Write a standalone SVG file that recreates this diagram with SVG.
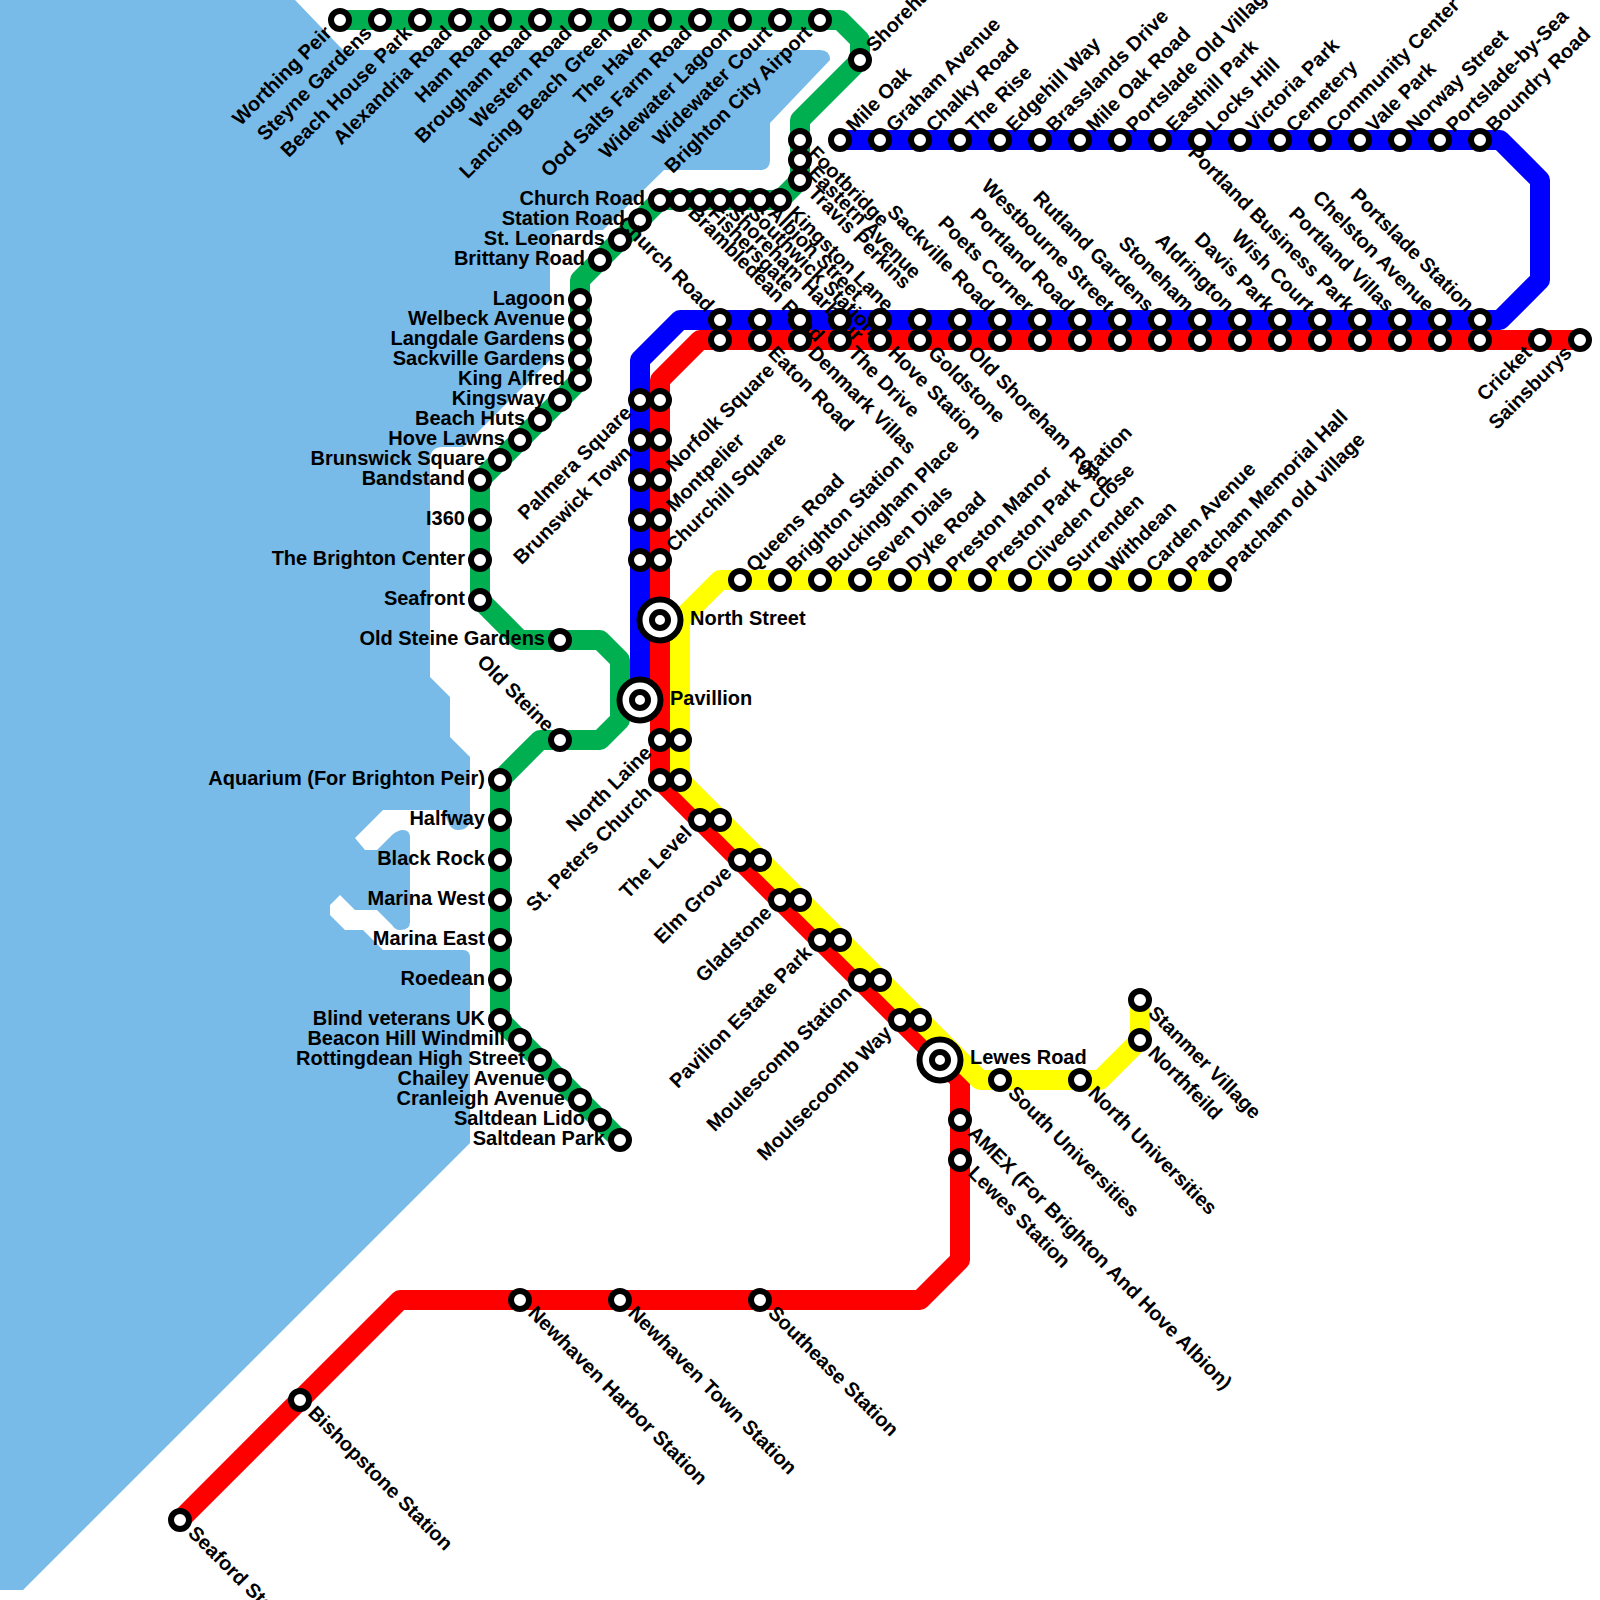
<svg xmlns="http://www.w3.org/2000/svg" width="1600" height="1600" viewBox="0 0 1600 1600">
<style>
text{font-family:"Liberation Sans",Arial,sans-serif;font-weight:bold;font-size:20px;fill:#000}
.e{text-anchor:end}
.ln{fill:none;stroke-width:20;stroke-linejoin:round;stroke-linecap:butt}
.g{stroke:#00B050}.b{stroke:#0000FF}.r{stroke:#FF0000}.y{stroke:#FFFF00}
.s{fill:#fff;stroke:#000;stroke-width:6}
.h{fill:#fff;stroke:#000;stroke-width:6}
</style>
<path id="sea" fill="#78BAE8" d="M0 0H295L343 50H820Q830 50 830 60L770 123V160Q770 170 760 170H664L603 230H563Q550 230 550 243V360L463 447H443Q430 447 430 460V677L450 697V737L470 757V818Q470 830 458 830Q452 830 449 824L443 810H383L355 838L365 850H377L392 835Q398 830 403 830Q410 830 410 838V922Q410 930 400 930Q395 930 392 925L377 910H355L340 895L330 905V915L345 930H363L383 950H463Q470 950 470 958V1143L23 1590H0Z"/>
<g id="connectors">
<path class="ln g" d="M340 20H840L860 40V60L800 120V180L780 200H660L580 280V380L480 480V600L520 640H600L620 660V720L600 740H540L500 780V1020L620 1140"/>
<path class="ln b" d="M840 140H1500L1540 180V280L1500 320H680L640 360V700"/>
<path class="ln r" d="M1580 340H700L660 380V780L960 1080V1260L920 1300H400L180 1520"/>
<path class="ln y" d="M1220 580H720L680 620V780L980 1080H1100L1140 1040V1000"/>
</g>
<g id="nodes">
<g id="worthing-peir" transform="translate(340 20)"><circle class="s" r="9"/><text class="e" x="-15" y="5" transform="rotate(-45)">Worthing Peir</text></g>
<g id="steyne-gardens" transform="translate(380 20)"><circle class="s" r="9"/><text class="e" x="-15" y="5" transform="rotate(-45)">Steyne Gardens</text></g>
<g id="beach-house-park" transform="translate(420 20)"><circle class="s" r="9"/><text class="e" x="-15" y="5" transform="rotate(-45)">Beach House Park</text></g>
<g id="alexandria-road" transform="translate(460 20)"><circle class="s" r="9"/><text class="e" x="-15" y="5" transform="rotate(-45)">Alexandria Road</text></g>
<g id="ham-road" transform="translate(500 20)"><circle class="s" r="9"/><text class="e" x="-15" y="5" transform="rotate(-45)">Ham Road</text></g>
<g id="brougham-road" transform="translate(540 20)"><circle class="s" r="9"/><text class="e" x="-15" y="5" transform="rotate(-45)">Brougham Road</text></g>
<g id="western-road" transform="translate(580 20)"><circle class="s" r="9"/><text class="e" x="-15" y="5" transform="rotate(-45)">Western Road</text></g>
<g id="lancing-beach-green" transform="translate(620 20)"><circle class="s" r="9"/><text class="e" x="-15" y="5" transform="rotate(-45)">Lancing Beach Green</text></g>
<g id="the-haven" transform="translate(660 20)"><circle class="s" r="9"/><text class="e" x="-15" y="5" transform="rotate(-45)">The Haven</text></g>
<g id="ood-salts-farm-road" transform="translate(700 20)"><circle class="s" r="9"/><text class="e" x="-15" y="5" transform="rotate(-45)">Ood Salts Farm Road</text></g>
<g id="widewater-lagoon" transform="translate(740 20)"><circle class="s" r="9"/><text class="e" x="-15" y="5" transform="rotate(-45)">Widewater Lagoon</text></g>
<g id="widewater-court" transform="translate(780 20)"><circle class="s" r="9"/><text class="e" x="-15" y="5" transform="rotate(-45)">Widewater Court</text></g>
<g id="brighton-city-airport" transform="translate(820 20)"><circle class="s" r="9"/><text class="e" x="-15" y="5" transform="rotate(-45)">Brighton City Airport</text></g>
<g id="shoreham" transform="translate(860 60)"><circle class="s" r="9"/><text x="15" y="5" transform="rotate(-45)">Shoreham</text></g>
<g id="footbridge" transform="translate(800 140)"><circle class="s" r="9"/><text x="15" y="5" transform="rotate(45)">Footbridge</text></g>
<g id="eastern-avenue" transform="translate(800 160)"><circle class="s" r="9"/><text x="15" y="5" transform="rotate(45)">Eastern Avenue</text></g>
<g id="travis-perkins" transform="translate(800 180)"><circle class="s" r="9"/><text x="15" y="5" transform="rotate(45)">Travis Perkins</text></g>
<g id="kingston-lane" transform="translate(780 200)"><circle class="s" r="9"/><text x="15" y="5" transform="rotate(45)">Kingston Lane</text></g>
<g id="albion-street" transform="translate(760 200)"><circle class="s" r="9"/><text x="15" y="5" transform="rotate(45)">Albion Street</text></g>
<g id="southwick-station" transform="translate(740 200)"><circle class="s" r="9"/><text x="15" y="5" transform="rotate(45)">Southwick Station</text></g>
<g id="shoreham-harbour" transform="translate(720 200)"><circle class="s" r="9"/><text x="15" y="5" transform="rotate(45)">Shoreham Harbour</text></g>
<g id="fishersgate" transform="translate(700 200)"><circle class="s" r="9"/><text x="15" y="5" transform="rotate(45)">Fishersgate</text></g>
<g id="brambledean-road" transform="translate(680 200)"><circle class="s" r="9"/><text x="15" y="5" transform="rotate(45)">Brambledean Road</text></g>
<g id="church-road-green" transform="translate(660 200)"><circle class="s" r="9"/><text class="e" x="-15" y="5">Church Road</text></g>
<g id="station-road" transform="translate(640 220)"><circle class="s" r="9"/><text class="e" x="-15" y="5">Station Road</text></g>
<g id="st-leonards" transform="translate(620 240)"><circle class="s" r="9"/><text class="e" x="-15" y="5">St. Leonards</text></g>
<g id="brittany-road" transform="translate(600 260)"><circle class="s" r="9"/><text class="e" x="-15" y="5">Brittany Road</text></g>
<g id="lagoon" transform="translate(580 300)"><circle class="s" r="9"/><text class="e" x="-15" y="5">Lagoon</text></g>
<g id="welbeck-avenue" transform="translate(580 320)"><circle class="s" r="9"/><text class="e" x="-15" y="5">Welbeck Avenue</text></g>
<g id="langdale-gardens" transform="translate(580 340)"><circle class="s" r="9"/><text class="e" x="-15" y="5">Langdale Gardens</text></g>
<g id="sackville-gardens" transform="translate(580 360)"><circle class="s" r="9"/><text class="e" x="-15" y="5">Sackville Gardens</text></g>
<g id="king-alfred" transform="translate(580 380)"><circle class="s" r="9"/><text class="e" x="-15" y="5">King Alfred</text></g>
<g id="kingsway" transform="translate(560 400)"><circle class="s" r="9"/><text class="e" x="-15" y="5">Kingsway</text></g>
<g id="beach-huts" transform="translate(540 420)"><circle class="s" r="9"/><text class="e" x="-15" y="5">Beach Huts</text></g>
<g id="hove-lawns" transform="translate(520 440)"><circle class="s" r="9"/><text class="e" x="-15" y="5">Hove Lawns</text></g>
<g id="brunswick-square" transform="translate(500 460)"><circle class="s" r="9"/><text class="e" x="-15" y="5">Brunswick Square</text></g>
<g id="bandstand" transform="translate(480 480)"><circle class="s" r="9"/><text class="e" x="-15" y="5">Bandstand</text></g>
<g id="i360" transform="translate(480 520)"><circle class="s" r="9"/><text class="e" x="-15" y="5">I360</text></g>
<g id="the-brighton-center" transform="translate(480 560)"><circle class="s" r="9"/><text class="e" x="-15" y="5">The Brighton Center</text></g>
<g id="seafront" transform="translate(480 600)"><circle class="s" r="9"/><text class="e" x="-15" y="5">Seafront</text></g>
<g id="old-steine-gardens" transform="translate(560 640)"><circle class="s" r="9"/><text class="e" x="-15" y="5">Old Steine Gardens</text></g>
<g id="old-steine" transform="translate(560 740)"><circle class="s" r="9"/><text class="e" x="-15" y="5" transform="rotate(45)">Old Steine</text></g>
<g id="aquarium" transform="translate(500 780)"><circle class="s" r="9"/><text class="e" x="-15" y="5">Aquarium (For Brighton Peir)</text></g>
<g id="halfway" transform="translate(500 820)"><circle class="s" r="9"/><text class="e" x="-15" y="5">Halfway</text></g>
<g id="black-rock" transform="translate(500 860)"><circle class="s" r="9"/><text class="e" x="-15" y="5">Black Rock</text></g>
<g id="marina-west" transform="translate(500 900)"><circle class="s" r="9"/><text class="e" x="-15" y="5">Marina West</text></g>
<g id="marina-east" transform="translate(500 940)"><circle class="s" r="9"/><text class="e" x="-15" y="5">Marina East</text></g>
<g id="roedean" transform="translate(500 980)"><circle class="s" r="9"/><text class="e" x="-15" y="5">Roedean</text></g>
<g id="blind-veterans-uk" transform="translate(500 1020)"><circle class="s" r="9"/><text class="e" x="-15" y="5">Blind veterans UK</text></g>
<g id="beacon-hill-windmill" transform="translate(520 1040)"><circle class="s" r="9"/><text class="e" x="-15" y="5">Beacon Hill Windmill</text></g>
<g id="rottingdean-high-street" transform="translate(540 1060)"><circle class="s" r="9"/><text class="e" x="-15" y="5">Rottingdean High Street</text></g>
<g id="chailey-avenue" transform="translate(560 1080)"><circle class="s" r="9"/><text class="e" x="-15" y="5">Chailey Avenue</text></g>
<g id="cranleigh-avenue" transform="translate(580 1100)"><circle class="s" r="9"/><text class="e" x="-15" y="5">Cranleigh Avenue</text></g>
<g id="saltdean-lido" transform="translate(600 1120)"><circle class="s" r="9"/><text class="e" x="-15" y="5">Saltdean Lido</text></g>
<g id="saltdean-park" transform="translate(620 1140)"><circle class="s" r="9"/><text class="e" x="-15" y="5">Saltdean Park</text></g>

<g id="mile-oak" transform="translate(840 140)"><circle class="s" r="9"/><text x="15" y="5" transform="rotate(-45)">Mile Oak</text></g>
<g id="graham-avenue" transform="translate(880 140)"><circle class="s" r="9"/><text x="15" y="5" transform="rotate(-45)">Graham Avenue</text></g>
<g id="chalky-road" transform="translate(920 140)"><circle class="s" r="9"/><text x="15" y="5" transform="rotate(-45)">Chalky Road</text></g>
<g id="the-rise" transform="translate(960 140)"><circle class="s" r="9"/><text x="15" y="5" transform="rotate(-45)">The Rise</text></g>
<g id="edgehill-way" transform="translate(1000 140)"><circle class="s" r="9"/><text x="15" y="5" transform="rotate(-45)">Edgehill Way</text></g>
<g id="brasslands-drive" transform="translate(1040 140)"><circle class="s" r="9"/><text x="15" y="5" transform="rotate(-45)">Brasslands Drive</text></g>
<g id="mile-oak-road" transform="translate(1080 140)"><circle class="s" r="9"/><text x="15" y="5" transform="rotate(-45)">Mile Oak Road</text></g>
<g id="portslade-old-village" transform="translate(1120 140)"><circle class="s" r="9"/><text x="15" y="5" transform="rotate(-45)">Portslade Old Village</text></g>
<g id="easthill-park" transform="translate(1160 140)"><circle class="s" r="9"/><text x="15" y="5" transform="rotate(-45)">Easthill Park</text></g>
<g id="locks-hill" transform="translate(1200 140)"><circle class="s" r="9"/><text x="15" y="5" transform="rotate(-45)">Locks Hill</text></g>
<g id="victoria-park" transform="translate(1240 140)"><circle class="s" r="9"/><text x="15" y="5" transform="rotate(-45)">Victoria Park</text></g>
<g id="cemetery" transform="translate(1280 140)"><circle class="s" r="9"/><text x="15" y="5" transform="rotate(-45)">Cemetery</text></g>
<g id="community-center" transform="translate(1320 140)"><circle class="s" r="9"/><text x="15" y="5" transform="rotate(-45)">Community Center</text></g>
<g id="vale-park" transform="translate(1360 140)"><circle class="s" r="9"/><text x="15" y="5" transform="rotate(-45)">Vale Park</text></g>
<g id="norway-street" transform="translate(1400 140)"><circle class="s" r="9"/><text x="15" y="5" transform="rotate(-45)">Norway Street</text></g>
<g id="portslade-by-sea" transform="translate(1440 140)"><circle class="s" r="9"/><text x="15" y="5" transform="rotate(-45)">Portslade-by-Sea</text></g>
<g id="boundry-road" transform="translate(1480 140)"><circle class="s" r="9"/><text x="15" y="5" transform="rotate(-45)">Boundry Road</text></g>

<g id="church-road-blue" transform="translate(720 320)"><circle class="s" r="9"/><text class="e" x="-15" y="5" transform="rotate(45)">Church Road</text></g>
<g id="blue-760" transform="translate(760 320)"><circle class="s" r="9"/></g>
<g id="blue-800" transform="translate(800 320)"><circle class="s" r="9"/></g>
<g id="blue-840" transform="translate(840 320)"><circle class="s" r="9"/></g>
<g id="blue-880" transform="translate(880 320)"><circle class="s" r="9"/></g>
<g id="blue-920" transform="translate(920 320)"><circle class="s" r="9"/></g>
<g id="blue-960" transform="translate(960 320)"><circle class="s" r="9"/></g>
<g id="sackville-road" transform="translate(1000 320)"><circle class="s" r="9"/><text class="e" x="-15" y="5" transform="rotate(45)">Sackville Road</text></g>
<g id="poets-corner" transform="translate(1040 320)"><circle class="s" r="9"/><text class="e" x="-15" y="5" transform="rotate(45)">Poets Corner</text></g>
<g id="portland-road" transform="translate(1080 320)"><circle class="s" r="9"/><text class="e" x="-15" y="5" transform="rotate(45)">Portland Road</text></g>
<g id="westbourne-street" transform="translate(1120 320)"><circle class="s" r="9"/><text class="e" x="-15" y="5" transform="rotate(45)">Westbourne Street</text></g>
<g id="rutland-gardens" transform="translate(1160 320)"><circle class="s" r="9"/><text class="e" x="-15" y="5" transform="rotate(45)">Rutland Gardens</text></g>
<g id="stoneham" transform="translate(1200 320)"><circle class="s" r="9"/><text class="e" x="-15" y="5" transform="rotate(45)">Stoneham</text></g>
<g id="aldrington" transform="translate(1240 320)"><circle class="s" r="9"/><text class="e" x="-15" y="5" transform="rotate(45)">Aldrington</text></g>
<g id="davis-park" transform="translate(1280 320)"><circle class="s" r="9"/><text class="e" x="-15" y="5" transform="rotate(45)">Davis Park</text></g>
<g id="wish-court" transform="translate(1320 320)"><circle class="s" r="9"/><text class="e" x="-15" y="5" transform="rotate(45)">Wish Court</text></g>
<g id="portland-business-park" transform="translate(1360 320)"><circle class="s" r="9"/><text class="e" x="-15" y="5" transform="rotate(45)">Portland Business Park</text></g>
<g id="portland-villas" transform="translate(1400 320)"><circle class="s" r="9"/><text class="e" x="-15" y="5" transform="rotate(45)">Portland Villas</text></g>
<g id="chelston-avenue" transform="translate(1440 320)"><circle class="s" r="9"/><text class="e" x="-15" y="5" transform="rotate(45)">Chelston Avenue</text></g>
<g id="portslade-station" transform="translate(1480 320)"><circle class="s" r="9"/><text class="e" x="-15" y="5" transform="rotate(45)">Portslade Station</text></g>

<g id="red-720" transform="translate(720 340)"><circle class="s" r="9"/></g>
<g id="eaton-road" transform="translate(760 340)"><circle class="s" r="9"/><text x="15" y="5" transform="rotate(45)">Eaton Road</text></g>
<g id="denmark-villas" transform="translate(800 340)"><circle class="s" r="9"/><text x="15" y="5" transform="rotate(45)">Denmark Villas</text></g>
<g id="the-drive" transform="translate(840 340)"><circle class="s" r="9"/><text x="15" y="5" transform="rotate(45)">The Drive</text></g>
<g id="hove-station" transform="translate(880 340)"><circle class="s" r="9"/><text x="15" y="5" transform="rotate(45)">Hove Station</text></g>
<g id="goldstone" transform="translate(920 340)"><circle class="s" r="9"/><text x="15" y="5" transform="rotate(45)">Goldstone</text></g>
<g id="old-shoreham-road" transform="translate(960 340)"><circle class="s" r="9"/><text x="15" y="5" transform="rotate(45)">Old Shoreham Road</text></g>
<g id="red-1000" transform="translate(1000 340)"><circle class="s" r="9"/></g>
<g id="red-1040" transform="translate(1040 340)"><circle class="s" r="9"/></g>
<g id="red-1080" transform="translate(1080 340)"><circle class="s" r="9"/></g>
<g id="red-1120" transform="translate(1120 340)"><circle class="s" r="9"/></g>
<g id="red-1160" transform="translate(1160 340)"><circle class="s" r="9"/></g>
<g id="red-1200" transform="translate(1200 340)"><circle class="s" r="9"/></g>
<g id="red-1240" transform="translate(1240 340)"><circle class="s" r="9"/></g>
<g id="red-1280" transform="translate(1280 340)"><circle class="s" r="9"/></g>
<g id="red-1320" transform="translate(1320 340)"><circle class="s" r="9"/></g>
<g id="red-1360" transform="translate(1360 340)"><circle class="s" r="9"/></g>
<g id="red-1400" transform="translate(1400 340)"><circle class="s" r="9"/></g>
<g id="red-1440" transform="translate(1440 340)"><circle class="s" r="9"/></g>
<g id="red-1480" transform="translate(1480 340)"><circle class="s" r="9"/></g>
<g id="cricket" transform="translate(1540 340)"><circle class="s" r="9"/><text class="e" x="-15" y="5" transform="rotate(-45)">Cricket</text></g>
<g id="sainsburys" transform="translate(1580 340)"><circle class="s" r="9"/><text class="e" x="-15" y="5" transform="rotate(-45)">Sainsburys</text></g>

<g id="palmera-square" transform="translate(640 400)"><circle class="s" r="9"/><text class="e" x="-15" y="5" transform="rotate(-45)">Palmera Square</text></g>
<g id="brunswick-town" transform="translate(640 440)"><circle class="s" r="9"/><text class="e" x="-15" y="5" transform="rotate(-45)">Brunswick Town</text></g>
<g id="blue-480" transform="translate(640 480)"><circle class="s" r="9"/></g>
<g id="blue-520" transform="translate(640 520)"><circle class="s" r="9"/></g>
<g id="blue-560" transform="translate(640 560)"><circle class="s" r="9"/></g>
<g id="red-400" transform="translate(660 400)"><circle class="s" r="9"/></g>
<g id="red-440" transform="translate(660 440)"><circle class="s" r="9"/></g>
<g id="norfolk-square" transform="translate(660 480)"><circle class="s" r="9"/><text x="15" y="5" transform="rotate(-45)">Norfolk Square</text></g>
<g id="montpelier" transform="translate(660 520)"><circle class="s" r="9"/><text x="15" y="5" transform="rotate(-45)">Montpelier</text></g>
<g id="churchill-square" transform="translate(660 560)"><circle class="s" r="9"/><text x="15" y="5" transform="rotate(-45)">Churchill Square</text></g>

<g id="queens-road" transform="translate(740 580)"><circle class="s" r="9"/><text x="15" y="5" transform="rotate(-45)">Queens Road</text></g>
<g id="brighton-station" transform="translate(780 580)"><circle class="s" r="9"/><text x="15" y="5" transform="rotate(-45)">Brighton Station</text></g>
<g id="buckingham-place" transform="translate(820 580)"><circle class="s" r="9"/><text x="15" y="5" transform="rotate(-45)">Buckingham Place</text></g>
<g id="seven-dials" transform="translate(860 580)"><circle class="s" r="9"/><text x="15" y="5" transform="rotate(-45)">Seven Dials</text></g>
<g id="dyke-road" transform="translate(900 580)"><circle class="s" r="9"/><text x="15" y="5" transform="rotate(-45)">Dyke Road</text></g>
<g id="preston-manor" transform="translate(940 580)"><circle class="s" r="9"/><text x="15" y="5" transform="rotate(-45)">Preston Manor</text></g>
<g id="preston-park-station" transform="translate(980 580)"><circle class="s" r="9"/><text x="15" y="5" transform="rotate(-45)">Preston Park Station</text></g>
<g id="cliveden-close" transform="translate(1020 580)"><circle class="s" r="9"/><text x="15" y="5" transform="rotate(-45)">Cliveden Close</text></g>
<g id="surrenden" transform="translate(1060 580)"><circle class="s" r="9"/><text x="15" y="5" transform="rotate(-45)">Surrenden</text></g>
<g id="withdean" transform="translate(1100 580)"><circle class="s" r="9"/><text x="15" y="5" transform="rotate(-45)">Withdean</text></g>
<g id="carden-avenue" transform="translate(1140 580)"><circle class="s" r="9"/><text x="15" y="5" transform="rotate(-45)">Carden Avenue</text></g>
<g id="patcham-memorial-hall" transform="translate(1180 580)"><circle class="s" r="9"/><text x="15" y="5" transform="rotate(-45)">Patcham Memorial Hall</text></g>
<g id="patcham-old-village" transform="translate(1220 580)"><circle class="s" r="9"/><text x="15" y="5" transform="rotate(-45)">Patcham old village</text></g>

<g id="north-street" transform="translate(660 620)"><circle class="h" r="20.5"/><circle class="h" r="8"/><text x="30" y="5">North Street</text></g>
<g id="pavillion" transform="translate(640 700)"><circle class="h" r="20.5"/><circle class="h" r="8"/><text x="30" y="5">Pavillion</text></g>
<g id="lewes-road" transform="translate(940 1060)"><circle class="h" r="20.5"/><circle class="h" r="8"/><text x="30" y="4">Lewes Road</text></g>

<g id="north-laine" transform="translate(660 740)"><circle class="s" r="9"/><text class="e" x="-15" y="5" transform="rotate(-45)">North Laine</text></g>
<g id="yellow-740" transform="translate(680 740)"><circle class="s" r="9"/></g>
<g id="st-peters-church" transform="translate(660 780)"><circle class="s" r="9"/><text class="e" x="-15" y="5" transform="rotate(-45)">St. Peters Church</text></g>
<g id="yellow-780" transform="translate(680 780)"><circle class="s" r="9"/></g>
<g id="the-level" transform="translate(700 820)"><circle class="s" r="9"/><text class="e" x="-15" y="5" transform="rotate(-45)">The Level</text></g>
<g id="yellow-820" transform="translate(720 820)"><circle class="s" r="9"/></g>
<g id="elm-grove" transform="translate(740 860)"><circle class="s" r="9"/><text class="e" x="-15" y="5" transform="rotate(-45)">Elm Grove</text></g>
<g id="yellow-860" transform="translate(760 860)"><circle class="s" r="9"/></g>
<g id="gladstone" transform="translate(780 900)"><circle class="s" r="9"/><text class="e" x="-15" y="5" transform="rotate(-45)">Gladstone</text></g>
<g id="yellow-900" transform="translate(800 900)"><circle class="s" r="9"/></g>
<g id="pavilion-estate-park" transform="translate(820 940)"><circle class="s" r="9"/><text class="e" x="-15" y="5" transform="rotate(-45)">Pavilion Estate Park</text></g>
<g id="yellow-940" transform="translate(840 940)"><circle class="s" r="9"/></g>
<g id="moulescomb-station" transform="translate(860 980)"><circle class="s" r="9"/><text class="e" x="-15" y="5" transform="rotate(-45)">Moulescomb Station</text></g>
<g id="yellow-980" transform="translate(880 980)"><circle class="s" r="9"/></g>
<g id="moulsecoomb-way" transform="translate(900 1020)"><circle class="s" r="9"/><text class="e" x="-15" y="5" transform="rotate(-45)">Moulsecoomb Way</text></g>
<g id="yellow-1020" transform="translate(920 1020)"><circle class="s" r="9"/></g>

<g id="south-universities" transform="translate(1000 1080)"><circle class="s" r="9"/><text x="15" y="5" transform="rotate(45)">South Universities</text></g>
<g id="north-universities" transform="translate(1080 1080)"><circle class="s" r="9"/><text x="15" y="5" transform="rotate(45)">North Universities</text></g>
<g id="northfeild" transform="translate(1140 1040)"><circle class="s" r="9"/><text x="15" y="5" transform="rotate(45)">Northfeild</text></g>
<g id="stanmer-village" transform="translate(1140 1000)"><circle class="s" r="9"/><text x="15" y="5" transform="rotate(45)">Stanmer Village</text></g>
<g id="amex" transform="translate(960 1120)"><circle class="s" r="9"/><text x="15" y="5" transform="rotate(45)">AMEX (For Brighton And Hove Albion)</text></g>
<g id="lewes-station" transform="translate(960 1160)"><circle class="s" r="9"/><text x="15" y="5" transform="rotate(45)">Lewes Station</text></g>
<g id="southease-station" transform="translate(760 1300)"><circle class="s" r="9"/><text x="15" y="5" transform="rotate(45)">Southease Station</text></g>
<g id="newhaven-town-station" transform="translate(620 1300)"><circle class="s" r="9"/><text x="15" y="5" transform="rotate(45)">Newhaven Town Station</text></g>
<g id="newhaven-harbor-station" transform="translate(520 1300)"><circle class="s" r="9"/><text x="15" y="5" transform="rotate(45)">Newhaven Harbor Station</text></g>
<g id="bishopstone-station" transform="translate(300 1400)"><circle class="s" r="9"/><text x="15" y="5" transform="rotate(45)">Bishopstone Station</text></g>
<g id="seaford-station" transform="translate(180 1520)"><circle class="s" r="9"/><text x="15" y="5" transform="rotate(45)">Seaford Station</text></g>
</g>
</svg>
